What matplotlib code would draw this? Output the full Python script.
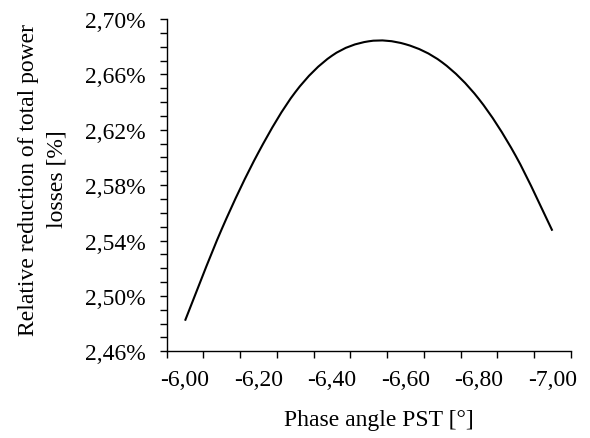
import numpy as np
import matplotlib
matplotlib.use("Agg")
import matplotlib.pyplot as plt
from matplotlib.path import Path
from matplotlib.patches import PathPatch
from matplotlib.ticker import FuncFormatter, FixedLocator

# Datos
angulos = [-6.00, -6.10, -6.20, -6.30, -6.40, -6.50, -6.60, -6.70, -6.80, -6.90, -7.00]
reduccion = [2.4821, 2.5483, 2.6037, 2.6471, 2.6735, 2.6839, 2.6818, 2.6687, 2.6422, 2.6013, 2.5471]
etiquetas_x = ["-6,00", "-6,20", "-6,40", "-6,60", "-6,80", "-7,00"]
yticks = [2.46, 2.50, 2.54, 2.58, 2.62, 2.66, 2.70]

plt.rcParams["font.family"] = ["Liberation Serif", "DejaVu Serif"]


def suavizado(x, y):
    """Curva suavizada tipo Excel (Catmull-Rom -> Bézier cúbica)."""
    p = np.column_stack([x, y])
    ext = np.vstack([p[0], p, p[-1]])
    verts = [p[0]]
    codes = [Path.MOVETO]
    for i in range(len(p) - 1):
        a, b, c, d = ext[i], ext[i + 1], ext[i + 2], ext[i + 3]
        verts += [b + (c - a) / 6, c - (d - b) / 6, c]
        codes += [Path.CURVE4] * 3
    return Path(verts, codes)


fig = plt.figure(figsize=(5.9, 4.39), dpi=100)
ax = fig.add_axes([0.2825, 0.1975, 0.6848, 0.7569])

idx = np.arange(len(angulos))
ax.add_patch(PathPatch(suavizado(idx, reduccion), fill=False, color="black", lw=1.5))

ax.set_xlim(-0.5, len(angulos) - 0.5)
ax.set_ylim(yticks[0], yticks[-1])

# eje x de categorías: marcas entre categorías, etiquetas cada dos
ax.xaxis.set_major_locator(FixedLocator(idx[::2]))
ax.set_xticklabels(etiquetas_x)
ax.xaxis.set_minor_locator(FixedLocator(np.arange(-0.5, len(angulos), 1.0)))
ax.tick_params(axis="x", which="major", length=0, pad=13, labelsize=17)
ax.tick_params(axis="x", which="minor", length=5, width=1.0, direction="out")

ax.set_yticks(yticks)
ax.yaxis.set_minor_locator(FixedLocator(np.arange(2.46, 2.7001, 0.01)))
ax.yaxis.set_major_formatter(FuncFormatter(lambda v, _: f"{v:.2f}%".replace(".", ",")))
ax.tick_params(axis="y", which="both", length=5, width=1.0, direction="out", pad=10, labelsize=17)

for s in ("top", "right"):
    ax.spines[s].set_visible(False)
for s in ("left", "bottom"):
    ax.spines[s].set_linewidth(1.0)

ax.set_xlabel("Phase angle PST [°]", fontsize=17)
ax.xaxis.set_label_coords(0.525, -0.175)
ax.set_ylabel("Relative reduction of total power\nlosses [%]", fontsize=17,
              linespacing=1.45)
ax.yaxis.set_label_coords(-0.245, 0.52)

fig.savefig("out.png", dpi=100)
